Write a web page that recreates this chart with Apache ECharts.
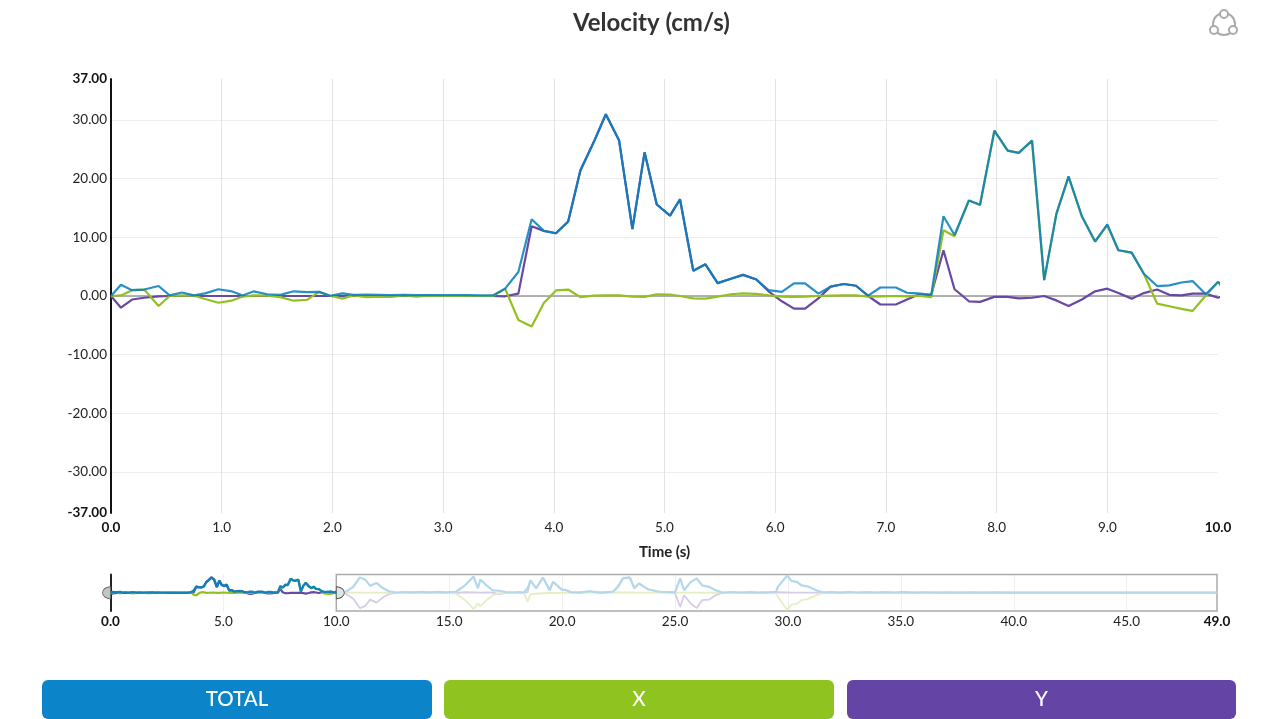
<!DOCTYPE html>
<html><head><meta charset="utf-8">
<style>html,body{margin:0;padding:0;background:#fff}#c{width:1280px;height:719px}</style>
<script src="https://cdn.jsdelivr.net/npm/echarts@6/dist/echarts.min.js"></script>
</head><body><div id="c"></div>
<script>
const titleText = 'Velocity (cm/s)';
const xName = 'Time (s)';
const buttonLabels = ['TOTAL', 'X', 'Y'];
const yTicks = [-37, -30, -20, -10, 0, 10, 20, 30, 37];
const miniTicks = [0, 5, 10, 15, 20, 25, 30, 35, 40, 45, 49];
const windowEnd = 10;
const fullEnd = 49;

const time = [
0,.09,.19,.30,.43,.53,.64,.75,.85,.97,1.09,1.19,1.29,1.41,1.53,1.65,1.77,1.88,1.98,2.09,2.19,2.31,2.42,2.53,2.65,2.76,2.87,2.98,3.09,3.21,3.33,3.45,
3.56,3.68,3.80,3.91,4.02,4.13,4.24,4.36,4.47,4.59,4.71,4.82,4.93,5.05,5.14,5.26,5.37,5.48,5.60,5.71,5.83,5.94,
6.06,6.17,6.27,6.39,6.50,6.62,6.73,6.84,6.95,7.09,7.19,7.29,7.41,7.52,7.62,7.75,7.85,7.98,8.10,8.20,8.32,8.43,8.54,8.65,8.77,8.89,9.0,9.1,9.22,9.33,9.45,9.56,9.67,9.77,9.89,10,
10.1,10.45,10.75,11.04,11.27,11.5,11.78,12.07,12.33,12.67,13,13.4,13.8,14.1,14.5,14.8,15.3,15.7,16.08,16.27,16.38,16.65,16.93,17.2,17.5,17.8,18.1,18.3,18.47,18.6,18.85,19.15,19.45,19.6,19.96,20.18,20.4,20.77,21.2,21.7,22.25,22.47,22.69,23,23.2,23.4,23.8,24.3,25,25.23,25.4,25.7,25.96,26.2,26.5,26.8,27.1,27.5,27.9,28.3,28.7,29.2,29.48,29.55,29.97,30.15,30.4,30.6,30.87,31.3,31.6,31.9,32.3,32.7,33.1,33.5,33.9,34.3,34.7,35.1,35.6,36.1,36.6,37.1,37.6,38.1,38.6,39.2,40,43,46,49];

const total = [
0,1.9,1.0,1.1,1.7,.1,.6,.1,.45,1.15,.8,.1,.8,.3,.2,.8,.65,.7,.05,.45,.2,.25,.2,.15,.2,.15,.15,.15,.15,.15,.1,.1,
1.25,4.1,13.1,11.1,10.7,12.7,21.4,26.2,31,26.5,11.4,24.5,15.6,13.7,16.5,4.3,5.4,2.2,2.95,3.6,2.8,1.0,
.7,2.15,2.15,.4,1.6,2.05,1.75,.05,1.45,1.45,.55,.45,.2,13.6,10.4,16.3,15.55,28.2,24.8,24.4,26.5,2.7,14,20.4,13.6,9.3,12.2,7.8,7.4,3.8,1.7,1.8,2.3,2.55,.3,2.4,
.8,3,12,31,27,14,20,9,3,.5,1.5,.8,1.8,.6,1.7,.6,2,15,33,9,27,15,5,4,1.5,.5,1.5,.5,9,25,9,31,5,22,7,5,1,.2,3,.3,2,12,29,31,9,19,7,2,1,29,5,22,29,15,12,5,.5,1.5,.5,1.2,.4,1.2,2,12,35,24,22,15,13,4,.6,1.5,.4,1.5,.5,1.4,.5,1.4,.5,1.2,.4,1,.4,.9,.3,.8,.3,.6,.3,.2,.2,.2,.2];

const xVel = [
0,.1,1.0,1.1,-1.7,0,.1,.05,-.5,-1.15,-.8,-.1,.1,.05,-.2,-.8,-.65,.7,.05,-.45,.1,-.2,-.1,-.15,.1,-.1,.05,0,0,0,0,0,
1.25,-4.1,-5.2,-1.2,.95,1.1,-.2,.05,.1,.1,-.1,-.15,.3,.25,0,-.4,-.45,-.1,.3,.45,.35,.1,
-.1,-.15,-.1,0,.05,.1,.1,-.1,-.05,0,-.05,.05,-.2,11.2,10.2,16.3,15.5,28.2,24.8,24.4,26.5,2.7,14,20.3,13.6,9.25,12.1,7.8,7.4,3.8,-1.3,-1.75,-2.2,-2.55,.1,2.4,
-.3,.2,.2,.2,.2,.2,.2,.1,.1,.1,-.1,0,.2,0,.1,0,-1.5,-15,-33,-22,-27,-15,-5,-1,0,.1,-.2,0,-18,-3,-2,-1,-.5,-.5,-.2,-.2,0,.1,.2,0,.2,.5,.5,.5,.2,.2,.2,.2,0,.2,.5,.2,.3,.2,.2,0,.1,.1,.1,.1,.2,0,-1.5,-8,-35,-24,-22,-15,-13,-4,.2,.2,.1,.1,.1,.1,.1,.1,.1,.1,.1,.1,.1,.1,.1,.1,.1,.1,.1,.1,.1,.1];

const yVel = [
0,-2,-.6,-.3,-.05,0,0,0,0,0,0,0,0,0,0,0,0,0,0,0,0,0,0,0,0,0,0,0,0,0,0,0,
-.05,.4,11.9,11.1,10.7,12.7,21.4,26.2,31,26.5,11.4,24.5,15.6,13.7,16.5,4.3,5.4,2.2,2.95,3.6,2.8,.8,
-.9,-2.15,-2.15,-.4,1.6,2.05,1.75,0,-1.45,-1.45,-.6,.2,.2,7.8,1.15,-.9,-1,-.15,-.15,-.4,-.3,0,-.75,-1.7,-.6,.8,1.25,.5,-.45,.5,1.1,.2,.1,.4,.4,-.3,
.5,-3,-12,-31,-27,-14,-20,-9,-3,-.4,.6,.3,.4,.3,.2,.2,-.5,1,.5,.5,.3,.5,.2,-3,-.5,.2,.4,.2,1,25,9,31,5,22,7,5,1,.1,3,.2,2,12,29,31,9,19,7,2,-1,-29,-5,-22,-31,-15,-14,-5,-.3,.5,.2,.4,.2,.3,1,-3,.5,.2,.3,.2,.2,.2,.3,.2,.3,.2,.3,.2,.3,.2,.3,.2,.2,.2,.2,.2,.2,.2,.2,.2,.2,.1,.1,.1];

const colors = {total:'#0a80bf', x:'#93c021', y:'#6848a4', paleTotal:'#b4d8ea', paleX:'#e4eec2', paleY:'#d6cce6', grid:'#eeeeee', vgrid:'#e2e2e2', text:'#222'};
const zip = a => time.map((t,i)=>[t,a[i]]);
const solid = a => zip(a).filter(p=>p[0]<=windowEnd);
const veiled = a => zip(a).filter(p=>p[0]>=windowEnd);
const font = 'Lato';

function line(name, data, color, xi, width, opacity, z, extra){
  return Object.assign({name, type:'line', data, xAxisIndex:xi, yAxisIndex:xi, showSymbol:false, symbol:'none',
    lineStyle:{color, width, opacity}, itemStyle:{color}, z, silent:true, animation:false}, extra||{});
}
const handlePath = 'path://M0,0 A10,10 0 0 1 0,20 Z';
const boldLabel = (txt, bold) => bold ? '{b|'+txt+'}' : txt;

const chart = echarts.init(document.getElementById('c'), null, {renderer:'canvas', width:1280, height:719});
chart.setOption({
  animation:false,
  backgroundColor:'#fff',
  title:{text:titleText, left:568, top:6,
    textStyle:{fontFamily:font, fontSize:24, fontWeight:'bold', color:'#333'}},
  grid:[
    {left:111, right:62, top:79, height:434},
    {left:110.5, right:63, top:574.5, height:36.5}
  ],
  xAxis:[
    {type:'value', gridIndex:0, min:0, max:windowEnd, interval:1,
      name:xName, nameLocation:'middle', nameGap:32,
      nameTextStyle:{fontFamily:font, fontSize:15, fontWeight:'bold', color:'#222'},
      axisLine:{show:false, onZero:false}, axisTick:{show:false},
      axisLabel:{margin:8, fontFamily:font, fontSize:13.5, color:colors.text, showMinLabel:true, showMaxLabel:true,
        formatter:v=>boldLabel(v.toFixed(1), v===0||v===windowEnd),
        rich:{b:{fontFamily:font, fontSize:13.5, fontWeight:'bold', color:'#111'}}},
      splitLine:{show:true, showMinLine:false, showMaxLine:false, lineStyle:{color:colors.vgrid, width:1}}},
    {type:'value', gridIndex:1, min:0, max:fullEnd,
      axisLine:{show:false, onZero:false},
      axisTick:{show:false, customValues:miniTicks},
      axisLabel:{margin:4, customValues:miniTicks, fontFamily:font, fontSize:13.5, color:colors.text,
        formatter:v=>boldLabel(v.toFixed(1), v===0||v===fullEnd),
        rich:{b:{fontFamily:font, fontSize:13.5, fontWeight:'bold', color:'#111'}}},
      splitLine:{show:true, showMinLine:false, showMaxLine:false, lineStyle:{color:'#efefef', width:1}}}
  ],
  yAxis:[
    {type:'value', gridIndex:0, min:-37, max:37,
      axisLine:{show:true, onZero:false, lineStyle:{color:'#111', width:2}},
      axisTick:{show:false, customValues:yTicks},
      axisLabel:{margin:4, customValues:yTicks, fontFamily:font, fontSize:13.5, color:colors.text,
        formatter:v=>boldLabel(v.toFixed(2), Math.abs(v)===37),
        rich:{b:{fontFamily:font, fontSize:13.5, fontWeight:'bold', color:'#111'}}},
      splitLine:{show:true, showMinLine:false, showMaxLine:false, lineStyle:{color:colors.grid, width:1}}},
    {type:'value', gridIndex:1, min:-37, max:37,
      axisLine:{show:true, onZero:false, lineStyle:{color:'#222', width:2}},
      axisTick:{show:false}, axisLabel:{show:false}, splitLine:{show:false}}
  ],
  series:[
    line('Y', zip(yVel), colors.y, 0, 2.2, 1, 3, {
      markLine:{silent:true, symbol:'none', label:{show:false}, animation:false, z:1,
        lineStyle:{color:'#999', width:1.5, type:'solid'}, data:[{yAxis:0}]}}),
    line('X', zip(xVel), colors.x, 0, 2.2, 1, 4),
    line('TOTAL', zip(total), colors.total, 0, 2.2, .88, 5),
    line('Y', veiled(yVel), colors.paleY, 1, 1.8, 1, 3, {
      markArea:{silent:true, animation:false, itemStyle:{color:'rgba(0,0,0,0)', borderColor:'#aaa', borderWidth:1.5},
        data:[[{xAxis:windowEnd,yAxis:-37},{xAxis:fullEnd,yAxis:37}]]}}),
    line('X', veiled(xVel), colors.paleX, 1, 1.8, 1, 3),
    line('TOTAL', veiled(total), colors.paleTotal, 1, 2.2, 1, 4),
    line('Y', solid(yVel), colors.y, 1, 2.2, 1, 4),
    line('X', solid(xVel), colors.x, 1, 2.2, 1, 5),
    line('TOTAL', solid(total), colors.total, 1, 2.4, .95, 6, {
      markPoint:{silent:true, animation:false, symbol:handlePath, symbolSize:[8,12], label:{show:false},
        itemStyle:{color:'#c4c4c4', borderColor:'#666', borderWidth:1},
        data:[
          {coord:[0,0], symbolRotate:180, symbolOffset:[-4,0]},
          {coord:[windowEnd,0], symbolOffset:[4,0], itemStyle:{color:'#e4e4e4', borderColor:'#555', borderWidth:1}}
        ]}})
  ],
  graphic:[
    {type:'group', x:1209, y:9, silent:true, children:[
      {type:'circle', shape:{cx:15,cy:15,r:11}, style:{fill:'none', stroke:'#aaa', lineWidth:2}},
      {type:'circle', shape:{cx:15,cy:5,r:4}, style:{fill:'#fff', stroke:'#aaa', lineWidth:2}},
      {type:'circle', shape:{cx:5,cy:21,r:4}, style:{fill:'#fff', stroke:'#aaa', lineWidth:2}},
      {type:'circle', shape:{cx:24,cy:21,r:4}, style:{fill:'#fff', stroke:'#aaa', lineWidth:2}}
    ]},
    ...[[42,390,'#0b84c9'],[444,390,'#8fc31f'],[847,389,'#6444a4']].map((b,i)=>({
      type:'group', silent:true, children:[
        {type:'rect', shape:{x:b[0], y:680, width:b[1], height:39, r:6}, style:{fill:b[2]}},
        {type:'text', x:b[0]+b[1]/2, y:699, style:{text:buttonLabels[i], fill:'#fff', fontFamily:font, fontSize:20.5, fontWeight:500, align:'center', verticalAlign:'middle'}}
      ]}))
  ]
});
</script></body></html>
